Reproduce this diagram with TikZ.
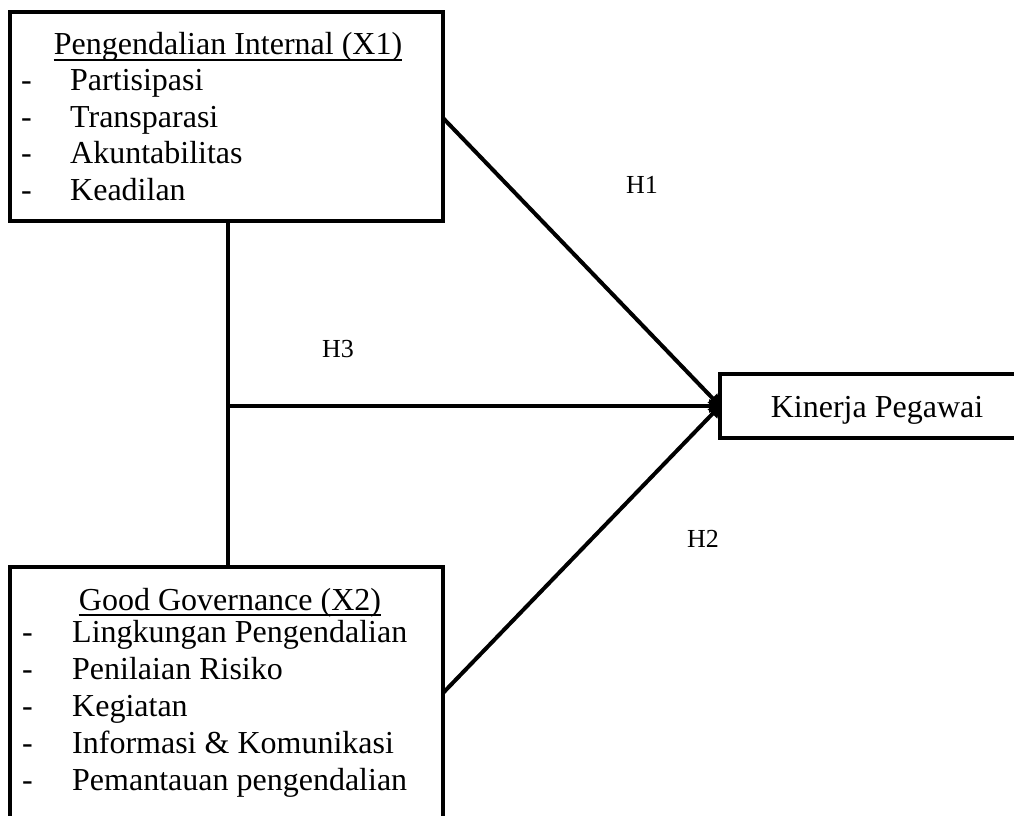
\documentclass[tikz,border=0pt]{standalone}
\usepackage{fontspec}
\setmainfont{Liberation Serif}
\usetikzlibrary{arrows.meta}
\begin{document}
\begin{tikzpicture}[x=1pt,y=-1pt,
  box/.style={draw,line width=4pt,inner sep=0pt,outer sep=0pt,anchor=north west},
  txt/.style={anchor=base west,inner sep=0pt,font=\fontsize{32}{38}\selectfont},
  ttl/.style={anchor=base,inner sep=0pt,font=\fontsize{32}{38}\selectfont},
  hyp/.style={anchor=base,inner sep=0pt,font=\fontsize{26}{30}\selectfont},
  ul/.style={line width=1.6pt},
  conn/.style={line width=4pt},
  arr/.style={conn,-{Triangle[length=11pt,width=13pt]}}]
\clip (0,0) rectangle (1014,816);
% boxes
\node[box,minimum width=433pt,minimum height=209pt] (b1) at (10,12) {};
\node[box,minimum width=433pt,minimum height=270pt] (b2) at (10,567) {};
\node[box,minimum width=330pt,minimum height=64pt] (k) at (720,374) {};
% box 1 text
\node[ttl] (t1) at (228,55) {Pengendalian Internal (X1)};
\draw[ul] ([yshift=-5pt]t1.base west) -- ([yshift=-5pt]t1.base east);
\node[txt] (d11) at (21,90) {-};  \node[txt] (i11) at (70,90) {Partisipasi};
\node[txt] (d12) at (21,127) {-}; \node[txt] (i12) at (70,127) {Transparasi};
\node[txt] (d13) at (21,163) {-}; \node[txt] (i13) at (70,163) {Akuntabilitas};
\node[txt] (d14) at (21,200) {-}; \node[txt] (i14) at (70,200) {Keadilan};
% box 2 text
\node[ttl] (t2) at (230,610) {Good Governance (X2)};
\draw[ul] ([yshift=-5pt]t2.base west) -- ([yshift=-5pt]t2.base east);
\node[txt] (d21) at (22,642) {-}; \node[txt] (i21) at (72,642) {Lingkungan Pengendalian};
\node[txt] (d22) at (22,679) {-}; \node[txt] (i22) at (72,679) {Penilaian Risiko};
\node[txt] (d23) at (22,716) {-}; \node[txt] (i23) at (72,716) {Kegiatan};
\node[txt] (d24) at (22,753) {-}; \node[txt] (i24) at (72,753) {Informasi \& Komunikasi};
\node[txt] (d25) at (22,790) {-}; \node[txt] (i25) at (72,790) {Pemantauan pengendalian};
% target text
\node[ttl] (kt) at (877,417) {Kinerja Pegawai};
% connectors
\coordinate (j) at (228,406);
\coordinate (s1) at (443,118);
\coordinate (s2) at (443,693);
\draw[conn] (b1.south -| j) -- (b2.north -| j);
\draw[arr] (j) -- (k.west);
\draw[arr] (s1) -- (k.west);
\draw[arr] (s2) -- (k.west);
% hypothesis labels
\node[hyp] (h1) at (642,193) {H1};
\node[hyp] (h3) at (338,357) {H3};
\node[hyp] (h2) at (703,547) {H2};
\end{tikzpicture}
\end{document}
